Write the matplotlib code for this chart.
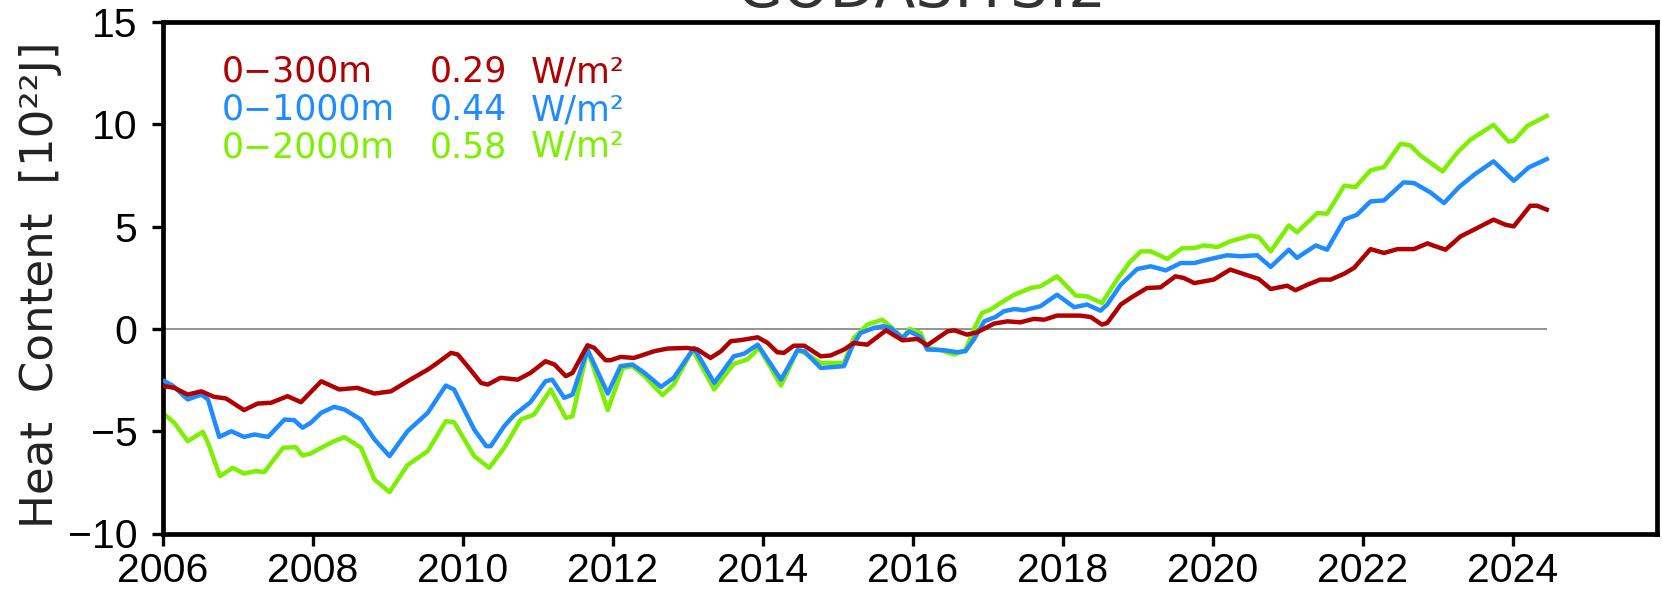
import matplotlib
matplotlib.use("Agg")
import matplotlib.pyplot as plt
import numpy as np

# ---------------- data ----------------
red_t = [2006.02, 2006.15, 2006.33, 2006.51, 2006.68, 2006.84, 2007.08, 2007.26, 2007.44, 2007.66,
         2007.84, 2008.11, 2008.35, 2008.59, 2008.82, 2009.04, 2009.26, 2009.53, 2009.66, 2009.84,
         2009.93, 2010.06, 2010.24, 2010.33, 2010.50, 2010.73, 2010.90, 2011.10, 2011.22, 2011.37,
         2011.46, 2011.66, 2011.75, 2011.90, 2011.97, 2012.10, 2012.28, 2012.55, 2012.73, 2012.99,
         2013.13, 2013.30, 2013.44, 2013.57, 2013.70, 2013.93, 2014.06, 2014.19, 2014.28, 2014.41,
         2014.55, 2014.77, 2014.90, 2015.08, 2015.21, 2015.39, 2015.64, 2015.86, 2016.06, 2016.19,
         2016.46, 2016.55, 2016.72, 2016.86, 2017.08, 2017.26, 2017.43, 2017.61, 2017.75, 2017.92,
         2018.23, 2018.37, 2018.52, 2018.59, 2018.77, 2018.90, 2019.12, 2019.30, 2019.50, 2019.61,
         2019.75, 2020.01, 2020.23, 2020.50, 2020.61, 2020.77, 2020.99, 2021.10, 2021.26, 2021.43,
         2021.57, 2021.75, 2021.88, 2022.10, 2022.28, 2022.46, 2022.68, 2022.86, 2022.94, 2023.10,
         2023.30, 2023.48, 2023.74, 2023.90, 2024.01, 2024.23, 2024.32, 2024.45]
red_v = [-2.80, -2.88, -3.21, -3.05, -3.32, -3.40, -3.97, -3.65, -3.61, -3.29,
         -3.58, -2.56, -2.96, -2.88, -3.16, -3.05, -2.56, -1.99, -1.66, -1.17,
         -1.25, -1.82, -2.64, -2.72, -2.39, -2.48, -2.15, -1.58, -1.74, -2.31,
         -2.15, -0.80, -0.93, -1.53, -1.53, -1.37, -1.42, -1.09, -0.96, -0.93,
         -1.01, -1.42, -1.09, -0.60, -0.55, -0.41, -0.68, -1.14, -1.17, -0.82,
         -0.82, -1.34, -1.30, -1.01, -0.69, -0.77, -0.07, -0.56, -0.49, -0.80,
         -0.12, -0.07, -0.28, -0.16, 0.26, 0.37, 0.32, 0.49, 0.45, 0.65,
         0.65, 0.58, 0.21, 0.29, 1.19, 1.51, 2.00, 2.03, 2.57, 2.49,
         2.24, 2.41, 2.90, 2.57, 2.44, 1.95, 2.11, 1.89, 2.16, 2.41,
         2.41, 2.70, 2.98, 3.90, 3.71, 3.90, 3.90, 4.18, 4.07, 3.87,
         4.52, 4.85, 5.34, 5.09, 5.01, 6.02, 6.02, 5.83]

blue_t = [2006.02, 2006.13, 2006.33, 2006.51, 2006.60, 2006.75, 2006.91, 2007.08, 2007.22, 2007.40,
          2007.62, 2007.75, 2007.86, 2007.97, 2008.11, 2008.28, 2008.42, 2008.64, 2008.82, 2009.02,
          2009.26, 2009.53, 2009.77, 2009.88, 2010.15, 2010.31, 2010.37, 2010.55, 2010.68, 2010.90,
          2011.10, 2011.19, 2011.35, 2011.46, 2011.66, 2011.93, 2012.10, 2012.26, 2012.42, 2012.64,
          2012.81, 2013.08, 2013.35, 2013.61, 2013.75, 2013.93, 2014.24, 2014.46, 2014.55, 2014.77,
          2015.08, 2015.19, 2015.30, 2015.48, 2015.61, 2015.70, 2015.86, 2015.95, 2016.10, 2016.19,
          2016.41, 2016.59, 2016.70, 2016.81, 2016.95, 2017.10, 2017.21, 2017.35, 2017.48, 2017.70,
          2017.92, 2018.15, 2018.32, 2018.50, 2018.59, 2018.77, 2018.99, 2019.17, 2019.37, 2019.57,
          2019.75, 2019.92, 2020.19, 2020.37, 2020.59, 2020.77, 2021.01, 2021.12, 2021.37, 2021.52,
          2021.75, 2021.92, 2022.10, 2022.28, 2022.54, 2022.68, 2022.90, 2023.08, 2023.28, 2023.48,
          2023.74, 2024.01, 2024.21, 2024.45]
blue_v = [-2.56, -2.77, -3.45, -3.21, -3.45, -5.28, -5.00, -5.28, -5.16, -5.28,
          -4.43, -4.46, -4.83, -4.59, -4.10, -3.81, -3.94, -4.43, -5.40, -6.22,
          -5.00, -4.10, -2.77, -2.96, -4.92, -5.73, -5.73, -4.75, -4.22, -3.58,
          -2.56, -2.48, -3.37, -3.21, -1.01, -3.16, -1.82, -1.74, -2.15, -2.83,
          -2.39, -0.93, -2.64, -1.34, -1.21, -0.77, -2.48, -1.04, -1.09, -1.91,
          -1.82, -0.85, -0.20, 0.05, 0.13, 0.05, -0.44, -0.12, -0.39, -1.01,
          -1.04, -1.14, -1.09, -0.52, 0.37, 0.58, 0.86, 0.97, 0.91, 1.11,
          1.67, 1.06, 1.19, 0.89, 1.19, 2.16, 2.93, 3.06, 2.86, 3.22,
          3.22, 3.38, 3.60, 3.55, 3.60, 3.03, 3.87, 3.47, 4.08, 3.87,
          5.34, 5.58, 6.23, 6.28, 7.16, 7.13, 6.67, 6.15, 6.93, 7.53,
          8.19, 7.24, 7.89, 8.30]

green_t = [2006.02, 2006.15, 2006.33, 2006.53, 2006.60, 2006.76, 2006.93, 2007.08, 2007.24, 2007.35,
           2007.60, 2007.77, 2007.86, 2007.97, 2008.11, 2008.28, 2008.42, 2008.64, 2008.82, 2009.02,
           2009.26, 2009.53, 2009.77, 2009.88, 2010.15, 2010.35, 2010.55, 2010.77, 2010.95, 2011.17,
           2011.37, 2011.46, 2011.66, 2011.93, 2012.13, 2012.26, 2012.42, 2012.66, 2012.81, 2013.06,
           2013.35, 2013.61, 2013.79, 2013.95, 2014.24, 2014.46, 2014.55, 2014.77, 2015.08, 2015.21,
           2015.39, 2015.59, 2015.70, 2015.86, 2015.95, 2016.10, 2016.19, 2016.37, 2016.55, 2016.70,
           2016.81, 2016.92, 2017.03, 2017.17, 2017.35, 2017.57, 2017.70, 2017.92, 2018.17, 2018.32,
           2018.52, 2018.72, 2018.90, 2019.04, 2019.17, 2019.39, 2019.59, 2019.75, 2019.88, 2020.06,
           2020.23, 2020.50, 2020.61, 2020.77, 2021.01, 2021.12, 2021.39, 2021.52, 2021.75, 2021.90,
           2022.10, 2022.28, 2022.50, 2022.63, 2022.77, 2023.06, 2023.26, 2023.43, 2023.74, 2023.94,
           2024.01, 2024.19, 2024.45]
green_v = [-4.18, -4.59, -5.49, -5.03, -5.57, -7.20, -6.79, -7.07, -6.95, -7.00,
           -5.81, -5.78, -6.19, -6.09, -5.81, -5.49, -5.29, -5.81, -7.36, -7.98,
           -6.66, -5.97, -4.51, -4.56, -6.22, -6.79, -5.81, -4.43, -4.18, -2.96,
           -4.35, -4.27, -1.01, -3.97, -1.91, -1.82, -2.31, -3.24, -2.72, -1.01,
           -2.96, -1.71, -1.50, -0.93, -2.77, -1.04, -1.17, -1.66, -1.66, -0.45,
           0.21, 0.45, 0.13, -0.44, 0.00, -0.20, -0.93, -1.04, -1.25, -1.04,
           -0.03, 0.78, 0.94, 1.27, 1.67, 2.00, 2.08, 2.57, 1.63, 1.59,
           1.27, 2.41, 3.30, 3.79, 3.79, 3.42, 3.95, 3.95, 4.08, 4.00,
           4.28, 4.56, 4.49, 3.79, 5.06, 4.72, 5.66, 5.63, 7.00, 6.93,
           7.75, 7.91, 9.05, 8.97, 8.46, 7.70, 8.63, 9.24, 9.97, 9.16,
           9.19, 9.92, 10.41]

series_labels = ["0\u2212300m", "0\u22121000m", "0\u22122000m"]
series_rates = ["0.29", "0.44", "0.58"]
rate_unit = "W/m\u00b2"
x_ticks = [2006, 2008, 2010, 2012, 2014, 2016, 2018, 2020, 2022, 2024]
y_ticks = [-10, -5, 0, 5, 10, 15]
title_text = "GODAS:TS:2"
ylabel_text = "Heat  Content  [10\u00b2\u00b2J]"

colors = ["#B00000", "#1E8CFF", "#7CF000"]

# ---------------- figure ----------------
W, H = 1662, 590
fig = plt.figure(figsize=(W / 100, H / 100), dpi=100)
ax = fig.add_axes([163 / W, 1 - 533.5 / H, (1657 - 163) / W, (533.5 - 22) / H])

ax.hlines(0, 2006.0, max(red_t), color="#8a8a8a", lw=1.3, zorder=1)
ax.plot(green_t, green_v, color=colors[2], lw=3.2, zorder=2, solid_joinstyle="round")
ax.plot(blue_t, blue_v, color=colors[1], lw=3.2, zorder=3, solid_joinstyle="round")
ax.plot(red_t, red_v, color=colors[0], lw=3.2, zorder=4, solid_joinstyle="round")

ax.set_xlim(2006.0, 2025.92)
ax.set_ylim(-10, 15)
ax.set_xticks(x_ticks)
ax.set_xticklabels([str(v) for v in x_ticks])
ax.set_yticks(y_ticks)
ax.set_yticklabels([("\u2212" + str(-v)) if v < 0 else str(v) for v in y_ticks])

for lab in ax.get_xticklabels() + ax.get_yticklabels():
    lab.set_fontfamily("Liberation Sans")
    lab.set_fontsize(29.5)

ax.tick_params(axis="x", direction="out", length=8.5, width=2.4, pad=5)
ax.tick_params(axis="y", direction="out", length=8.0, width=2.4, pad=10.5)
ax.tick_params(top=False, right=False)
for sp in ax.spines.values():
    sp.set_linewidth(3.4)
    sp.set_color("black")

# y label
fig.text(53 / W, 1 - 285 / H, ylabel_text, rotation=90, rotation_mode="anchor",
         ha="center", va="baseline", fontsize=32.5, family="DejaVu Sans", color="#222222")

# title (cut off by the top edge in the reference)
fig.text(922 / W, 1 - 7 / H, title_text, ha="center", va="baseline",
         fontsize=43, family="DejaVu Sans", color="#333333")

# legend text block
row_base = [82, 120, 157]
col_x = [222, 430, 531]
for i in range(3):
    yb = 1 - row_base[i] / H
    for x, s in zip(col_x, [series_labels[i], series_rates[i], rate_unit]):
        fig.text(x / W, yb, s, ha="left", va="baseline", fontsize=25,
                 family="DejaVu Sans", color=colors[i])

fig.savefig("out.png", dpi=100)
